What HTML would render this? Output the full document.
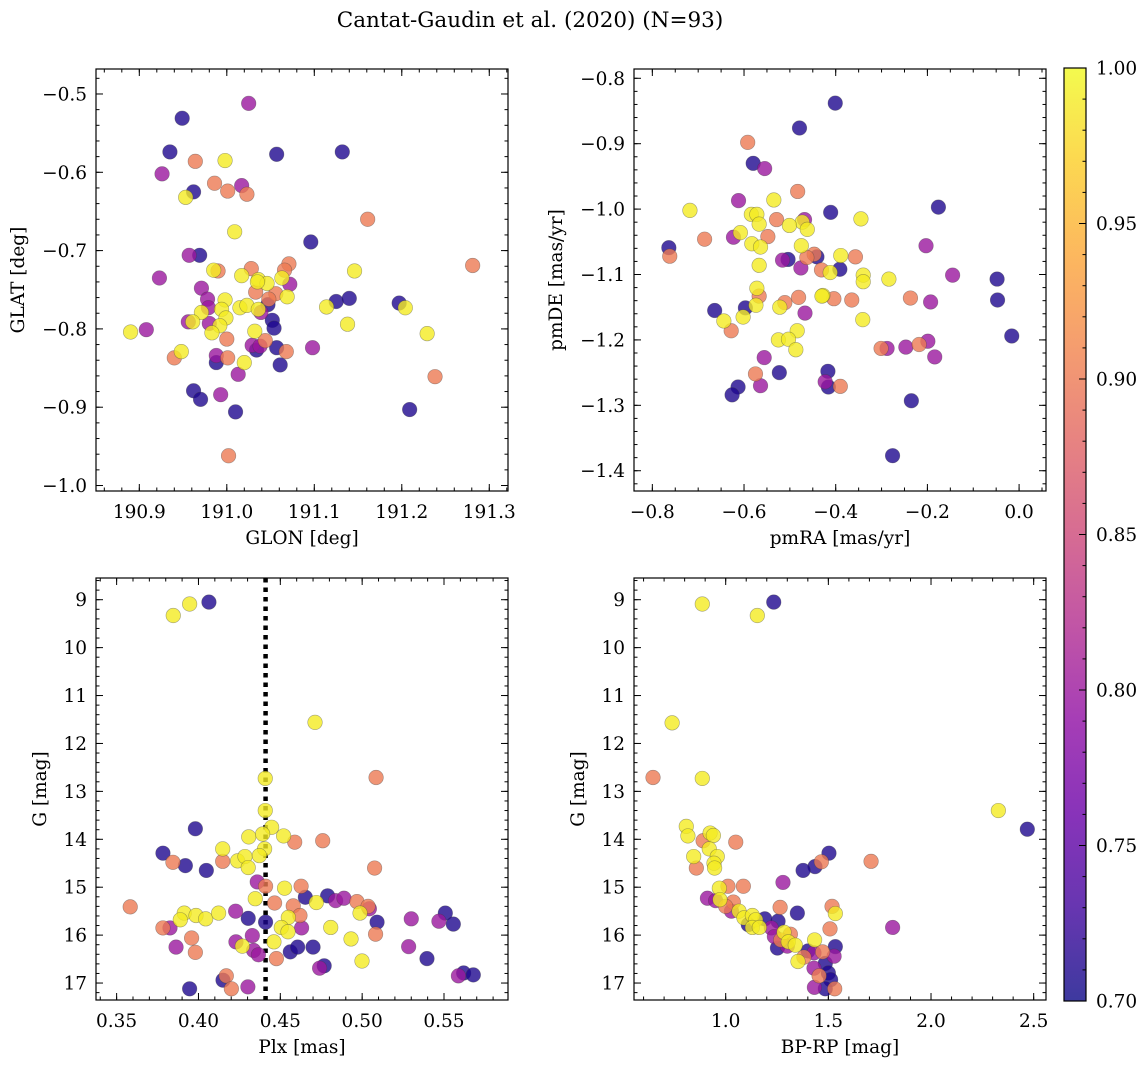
<!DOCTYPE html>
<html><head><meta charset="utf-8"><title>Cantat-Gaudin et al. (2020)</title>
<style>
html,body{margin:0;padding:0;background:#fff;}
svg{display:block;font-family:"DejaVu Serif","Liberation Serif",serif;}
</style></head>
<body>
<svg id="fig" width="1148" height="1068" viewBox="0 0 1148 1068" xmlns="http://www.w3.org/2000/svg">
<defs>
<linearGradient id="plasmaGrad" x1="0" y1="1" x2="0" y2="0">
<stop offset="0" stop-color="#0d0887"/><stop offset="0.1" stop-color="#41049d"/><stop offset="0.2" stop-color="#6a00a8"/><stop offset="0.3" stop-color="#8f0da4"/><stop offset="0.4" stop-color="#b12a90"/><stop offset="0.5" stop-color="#cc4778"/><stop offset="0.6" stop-color="#e16462"/><stop offset="0.7" stop-color="#f2844b"/><stop offset="0.8" stop-color="#fca636"/><stop offset="0.9" stop-color="#fcce25"/><stop offset="1" stop-color="#f0f921"/>
</linearGradient>
</defs>
<text x="530" y="27" font-size="21.5" text-anchor="middle">Cantat-Gaudin et al. (2020) (N=93)</text>
<g>
<rect x="1064" y="68" width="22" height="933" fill="url(#plasmaGrad)" fill-opacity="0.8" stroke="#000" stroke-width="1.2"/>
<g id="cbticks"></g>
</g>
</svg>
<script>
// ---------- Panel 1: GLON vs GLAT ----------
const glon=[191.025,190.949,190.935,191.057,191.132,190.964,190.998,190.926,190.986,191.017,191.001,191.023,190.962,190.953,191.161,191.009,191.096,190.957,190.969,191.281,191.071,190.923,191.028,190.985,190.990,191.066,191.146,191.017,191.063,191.072,191.036,191.046,191.035,190.971,191.033,191.056,191.048,191.069,190.978,190.998,191.125,191.140,191.197,191.204,191.114,190.979,190.971,191.015,191.023,191.047,191.036,191.039,190.994,190.999,190.956,190.961,190.980,190.992,191.052,191.054,191.138,190.890,190.908,190.983,191.032,191.229,191.000,191.044,191.029,191.034,191.038,191.057,191.068,191.098,190.948,190.940,190.988,191.001,190.988,191.020,191.061,191.013,191.238,190.962,190.970,190.993,191.010,191.209,191.002];
const glat=[-0.512,-0.531,-0.574,-0.577,-0.574,-0.586,-0.585,-0.602,-0.614,-0.617,-0.624,-0.628,-0.625,-0.632,-0.660,-0.676,-0.689,-0.706,-0.706,-0.719,-0.717,-0.735,-0.723,-0.725,-0.726,-0.725,-0.726,-0.732,-0.735,-0.743,-0.737,-0.742,-0.740,-0.748,-0.753,-0.755,-0.762,-0.759,-0.762,-0.763,-0.765,-0.761,-0.767,-0.773,-0.772,-0.773,-0.779,-0.773,-0.770,-0.769,-0.775,-0.779,-0.775,-0.786,-0.791,-0.791,-0.793,-0.796,-0.789,-0.799,-0.794,-0.804,-0.801,-0.805,-0.803,-0.806,-0.813,-0.815,-0.821,-0.827,-0.822,-0.824,-0.829,-0.824,-0.829,-0.837,-0.834,-0.837,-0.843,-0.843,-0.846,-0.858,-0.861,-0.879,-0.890,-0.884,-0.906,-0.903,-0.962];
const prob1=[0.8,0.71,0.71,0.71,0.71,0.9,0.99,0.8,0.9,0.8,0.9,0.9,0.71,0.99,0.9,0.99,0.71,0.8,0.71,0.9,0.9,0.8,0.9,0.99,0.9,0.9,0.99,0.99,0.99,0.8,0.99,0.99,0.99,0.8,0.9,0.9,0.9,0.99,0.8,0.99,0.71,0.71,0.71,0.99,0.99,0.8,0.99,0.99,0.99,0.71,0.99,0.8,0.99,0.99,0.8,0.99,0.8,0.99,0.71,0.71,0.99,0.99,0.8,0.99,0.99,0.99,0.9,0.9,0.8,0.71,0.8,0.71,0.9,0.8,0.99,0.9,0.8,0.9,0.71,0.99,0.71,0.8,0.9,0.71,0.71,0.8,0.71,0.71,0.9];
// ---------- Panel 2: pmRA vs pmDE ----------
const pmra=[-0.401,-0.479,-0.592,-0.580,-0.555,-0.483,-0.612,-0.535,-0.176,-0.718,-0.411,-0.584,-0.572,-0.345,-0.529,-0.468,-0.473,-0.501,-0.567,-0.462,-0.608,-0.623,-0.548,-0.686,-0.583,-0.564,-0.475,-0.203,-0.764,-0.762,-0.447,-0.441,-0.463,-0.389,-0.357,-0.516,-0.504,-0.567,-0.476,-0.431,-0.412,-0.391,-0.340,-0.340,-0.145,-0.284,-0.048,-0.572,-0.567,-0.574,-0.428,-0.430,-0.404,-0.511,-0.522,-0.481,-0.365,-0.237,-0.193,-0.047,-0.597,-0.664,-0.467,-0.602,-0.644,-0.341,-0.628,-0.484,-0.525,-0.503,-0.487,-0.301,-0.288,-0.247,-0.218,-0.199,-0.184,-0.016,-0.556,-0.575,-0.523,-0.417,-0.423,-0.416,-0.390,-0.564,-0.613,-0.626,-0.235,-0.276];
const pmde=[-0.838,-0.876,-0.898,-0.930,-0.938,-0.973,-0.987,-0.986,-0.997,-1.002,-1.005,-1.008,-1.008,-1.015,-1.016,-1.016,-1.020,-1.025,-1.023,-1.031,-1.036,-1.043,-1.042,-1.046,-1.053,-1.058,-1.056,-1.056,-1.059,-1.072,-1.069,-1.073,-1.074,-1.071,-1.073,-1.078,-1.077,-1.086,-1.090,-1.093,-1.097,-1.092,-1.101,-1.111,-1.101,-1.107,-1.107,-1.121,-1.133,-1.147,-1.132,-1.133,-1.137,-1.143,-1.150,-1.135,-1.139,-1.136,-1.142,-1.139,-1.151,-1.155,-1.159,-1.165,-1.171,-1.169,-1.186,-1.186,-1.200,-1.199,-1.215,-1.213,-1.213,-1.211,-1.207,-1.202,-1.226,-1.194,-1.227,-1.252,-1.250,-1.248,-1.264,-1.272,-1.271,-1.270,-1.272,-1.284,-1.293,-1.377];
const prob2=[0.71,0.71,0.9,0.71,0.8,0.9,0.8,0.99,0.71,0.99,0.71,0.99,0.99,0.99,0.9,0.8,0.99,0.99,0.99,0.99,0.99,0.8,0.9,0.9,0.99,0.99,0.99,0.8,0.71,0.9,0.9,0.71,0.9,0.99,0.9,0.8,0.71,0.99,0.8,0.9,0.99,0.71,0.99,0.99,0.8,0.99,0.71,0.99,0.9,0.99,0.99,0.99,0.9,0.9,0.99,0.9,0.9,0.9,0.8,0.71,0.71,0.71,0.8,0.99,0.99,0.99,0.9,0.99,0.99,0.99,0.99,0.9,0.8,0.8,0.9,0.8,0.8,0.71,0.8,0.9,0.71,0.71,0.8,0.71,0.9,0.8,0.71,0.71,0.71,0.71];
// ---------- Panel 3: Plx vs G ----------
const plx=[0.3846,0.3946,0.4064,0.4712,0.4408,0.5085,0.4408,0.3981,0.4447,0.4307,0.4392,0.4520,0.4588,0.4759,0.3783,0.4148,0.4404,0.3844,0.3920,0.4148,0.4239,0.4284,0.4304,0.4372,0.4048,0.5076,0.4359,0.4410,0.4526,0.4627,0.4653,0.4789,0.4347,0.4465,0.4579,0.4720,0.4838,0.4889,0.4968,0.5036,0.5044,0.4987,0.3583,0.3913,0.3985,0.4044,0.3889,0.4123,0.4227,0.4304,0.4410,0.4620,0.4549,0.5091,0.5300,0.5469,0.5508,0.5557,0.3783,0.3826,0.4506,0.4547,0.4630,0.4808,0.5082,0.3958,0.4229,0.4329,0.4461,0.4932,0.5284,0.3863,0.3981,0.4268,0.4337,0.4366,0.4476,0.4561,0.4606,0.4700,0.4999,0.5396,0.4740,0.4768,0.5588,0.5620,0.5679,0.4150,0.4170,0.4201,0.4302,0.3946];
const gmag3=[9.33,9.09,9.05,11.56,12.73,12.71,13.40,13.78,13.75,13.95,13.89,13.93,14.06,14.03,14.29,14.20,14.20,14.48,14.55,14.46,14.45,14.36,14.59,14.34,14.65,14.60,14.89,14.98,15.02,14.98,15.21,15.18,15.24,15.33,15.39,15.32,15.28,15.23,15.30,15.40,15.45,15.54,15.41,15.54,15.59,15.66,15.68,15.54,15.50,15.65,15.73,15.59,15.63,15.73,15.66,15.71,15.54,15.77,15.85,15.85,15.84,15.93,15.85,15.84,15.98,16.06,16.14,16.01,16.14,16.08,16.24,16.25,16.36,16.23,16.32,16.41,16.49,16.35,16.25,16.25,16.54,16.49,16.69,16.64,16.85,16.79,16.83,16.94,16.85,17.12,17.08,17.12];
const prob3=[0.99,0.99,0.71,0.99,0.99,0.9,0.99,0.71,0.99,0.99,0.99,0.99,0.9,0.9,0.71,0.99,0.99,0.9,0.71,0.9,0.99,0.99,0.99,0.99,0.71,0.9,0.8,0.9,0.99,0.9,0.71,0.71,0.99,0.9,0.9,0.99,0.8,0.8,0.9,0.9,0.8,0.99,0.9,0.99,0.99,0.99,0.99,0.99,0.8,0.71,0.71,0.9,0.99,0.71,0.8,0.8,0.71,0.71,0.9,0.8,0.99,0.99,0.8,0.99,0.9,0.9,0.8,0.8,0.99,0.99,0.8,0.8,0.9,0.99,0.8,0.8,0.9,0.71,0.71,0.71,0.99,0.71,0.8,0.71,0.8,0.71,0.71,0.71,0.9,0.9,0.8,0.71];
const plxMean=[0.441];
// ---------- Panel 4: BP-RP vs G ----------
const bprp=[0.886,1.154,1.234,0.739,0.646,0.886,2.328,2.469,0.808,0.816,0.924,0.940,0.890,0.920,1.049,0.959,0.844,0.943,0.946,0.857,1.503,1.466,1.435,1.377,1.708,1.279,1.011,1.086,0.969,0.911,0.951,0.972,1.037,1.000,1.265,1.518,1.534,1.349,1.065,1.028,1.089,1.130,1.146,1.190,1.255,1.110,1.130,1.164,1.813,1.508,1.222,1.284,1.315,1.237,1.268,1.305,1.339,1.252,1.300,1.433,1.534,1.401,1.430,1.472,1.528,1.381,1.352,1.485,1.430,1.500,1.455,1.511,1.432,1.485,1.531];
const gmag4=[9.09,9.33,9.05,11.57,12.71,12.73,13.40,13.79,13.73,13.93,13.87,13.92,14.03,14.20,14.06,14.36,14.36,14.50,14.60,14.60,14.29,14.47,14.57,14.65,14.46,14.90,14.98,14.98,15.02,15.23,15.28,15.26,15.31,15.40,15.42,15.40,15.55,15.54,15.50,15.50,15.64,15.59,15.68,15.66,15.71,15.78,15.84,15.84,15.84,15.87,15.85,15.94,15.98,16.03,16.10,16.14,16.21,16.27,16.23,16.10,16.24,16.33,16.37,16.35,16.44,16.46,16.55,16.59,16.69,16.79,16.85,16.93,17.09,17.12,17.12];
const prob4=[0.99,0.99,0.71,0.99,0.9,0.99,0.99,0.71,0.99,0.99,0.99,0.99,0.9,0.99,0.9,0.99,0.99,0.99,0.99,0.9,0.71,0.9,0.71,0.71,0.9,0.8,0.9,0.9,0.99,0.8,0.8,0.99,0.9,0.9,0.9,0.9,0.99,0.71,0.99,0.8,0.99,0.99,0.99,0.71,0.71,0.71,0.99,0.99,0.8,0.9,0.8,0.99,0.9,0.8,0.9,0.99,0.99,0.71,0.8,0.99,0.71,0.71,0.8,0.9,0.8,0.9,0.99,0.71,0.8,0.71,0.9,0.71,0.8,0.71,0.9];
// ---------- Colorbar ticks ----------
const cbTicks=[0.70,0.75,0.80,0.85,0.90,0.95,1.00];
const cbTickLabels=["0.70","0.75","0.80","0.85","0.90","0.95","1.00"];

const NS="http://www.w3.org/2000/svg";
const svg=document.getElementById('fig');
const FS=18.5;
function mk(tag,attrs,parent){const e=document.createElementNS(NS,tag);for(const k in attrs)e.setAttribute(k,attrs[k]);(parent||svg).appendChild(e);return e;}
const stops=[[0,[13,8,135]],[0.1,[65,4,157]],[0.2,[106,0,168]],[0.3,[143,13,164]],[0.4,[177,42,144]],[0.5,[204,71,120]],[0.6,[225,100,98]],[0.7,[242,132,75]],[0.8,[252,166,54]],[0.9,[252,206,37]],[1,[240,249,33]]];
function plasma(v){let t=Math.max(0,Math.min(1,(v-0.7)/0.3));for(let i=1;i<stops.length;i++){if(t<=stops[i][0]){const a=stops[i-1],b=stops[i];const f=(t-a[0])/(b[0]-a[0]);const c=a[1].map((x,j)=>Math.round(x+(b[1][j]-x)*f));return 'rgb('+c.join(',')+')';}}return 'rgb(240,249,33)';}
function fmt(v,d){const s=Math.abs(v).toFixed(d);return (v<-1e-9?'\u2212':'')+s;}

function panel(cfg){
  const g=mk('g',{});
  
  
  const sx=v=>cfg.px0+(v-cfg.xd[0])/(cfg.xd[1]-cfg.xd[0])*(cfg.px1-cfg.px0);
  const sy=v=>cfg.py0+(v-cfg.yd[0])/(cfg.yd[1]-cfg.yd[0])*(cfg.py1-cfg.py0);
  const tg=mk('g',{stroke:'#000','stroke-width':1},g);
  function xt(v,len){const x=sx(v);if(x<cfg.px0-0.5||x>cfg.px1+0.5)return;mk('line',{x1:x,x2:x,y1:cfg.py1,y2:cfg.py1-len},tg);mk('line',{x1:x,x2:x,y1:cfg.py0,y2:cfg.py0+len},tg);}
  function yt(v,len){const y=sy(v);if(y<Math.min(cfg.py0,cfg.py1)-0.5||y>Math.max(cfg.py0,cfg.py1)+0.5)return;mk('line',{y1:y,y2:y,x1:cfg.px0,x2:cfg.px0+len},tg);mk('line',{y1:y,y2:y,x1:cfg.px1,x2:cfg.px1-len},tg);}
  const xlo=Math.min(...cfg.xd),xhi=Math.max(...cfg.xd),ylo=Math.min(...cfg.yd),yhi=Math.max(...cfg.yd);
  for(let k=Math.ceil(xlo/cfg.xmin);k*cfg.xmin<=xhi;k++)xt(k*cfg.xmin,3.5);
  for(let k=Math.ceil(ylo/cfg.ymin);k*cfg.ymin<=yhi;k++)yt(k*cfg.ymin,3.5);
  const lg=mk('g',{'font-size':FS,fill:'#000'},g);
  cfg.xmaj.forEach(v=>{xt(v,7);const t=mk('text',{x:sx(v),y:cfg.py1+27,'text-anchor':'middle'},lg);t.textContent=fmt(v,cfg.xdec);});
  cfg.ymaj.forEach(v=>{yt(v,7);const t=mk('text',{x:cfg.px0-9,y:sy(v)+6.5,'text-anchor':'end'},lg);t.textContent=fmt(v,cfg.ydec);});
  if(cfg.vline!==undefined){const l=mk('line',{x1:sx(cfg.vline),x2:sx(cfg.vline),y1:cfg.py0,y2:cfg.py1,stroke:'#000','stroke-width':4.5,'stroke-dasharray':'4.5 5'},g);}
  const idx=cfg.x.map((_,i)=>i).sort((a,b)=>cfg.p[a]-cfg.p[b]);
  const pg=mk('g',{},g);
  idx.forEach(i=>{
    const c=mk('circle',{cx:sx(cfg.x[i]),cy:sy(cfg.y[i]),r:7.3,fill:plasma(cfg.p[i]),'fill-opacity':0.8,stroke:'rgba(60,60,60,0.45)','stroke-width':0.6},pg);
    
    
  });
  const f=mk('rect',{x:cfg.px0,y:Math.min(cfg.py0,cfg.py1),width:cfg.px1-cfg.px0,height:Math.abs(cfg.py1-cfg.py0),fill:'none',stroke:'#000','stroke-width':1.2},g);
  
  const xl=mk('text',{x:(cfg.px0+cfg.px1)/2,y:cfg.py1+53,'text-anchor':'middle','font-size':FS},g);
  xl.textContent=cfg.xlabel;
  const yc=(cfg.py0+cfg.py1)/2;
  const yl=mk('text',{x:cfg.ylx,y:yc,'text-anchor':'middle','font-size':FS,transform:'rotate(-90 '+cfg.ylx+' '+yc+')'},g);
  yl.textContent=cfg.ylabel;
}
panel({name:'glon-glat-panel',px0:96,px1:508,py0:69,py1:491,xd:[190.8505,191.3214],yd:[-0.4681,-1.007],x:glon,y:glat,p:prob1,
  xmaj:[190.9,191.0,191.1,191.2,191.3],xmin:0.02,xdec:1,ymaj:[-0.5,-0.6,-0.7,-0.8,-0.9,-1.0],ymin:0.02,ydec:1,xlabel:'GLON [deg]',ylabel:'GLAT [deg]',ylx:24});
panel({name:'pmra-pmde-panel',px0:634,px1:1046,py0:69,py1:491,xd:[-0.840,0.0587],yd:[-0.7858,-1.431],x:pmra,y:pmde,p:prob2,
  xmaj:[-0.8,-0.6,-0.4,-0.2,0.0],xmin:0.05,xdec:1,ymaj:[-0.8,-0.9,-1.0,-1.1,-1.2,-1.3,-1.4],ymin:0.02,ydec:1,xlabel:'pmRA [mas/yr]',ylabel:'pmDE [mas/yr]',ylx:562});
panel({name:'plx-g-panel',px0:96,px1:508,py0:578,py1:1000,xd:[0.3374,0.5891],yd:[8.547,17.354],x:plx,y:gmag3,p:prob3,
  xmaj:[0.35,0.40,0.45,0.50,0.55],xmin:0.01,xdec:2,ymaj:[9,10,11,12,13,14,15,16,17],ymin:0.2,ydec:0,xlabel:'Plx [mas]',ylabel:'G [mag]',ylx:46,vline:plxMean[0]});
panel({name:'bprp-g-panel',px0:634,px1:1046,py0:578,py1:1000,xd:[0.5534,2.560],yd:[8.547,17.354],x:bprp,y:gmag4,p:prob4,
  xmaj:[1.0,1.5,2.0,2.5],xmin:0.1,xdec:1,ymaj:[9,10,11,12,13,14,15,16,17],ymin:0.2,ydec:0,xlabel:'BP-RP [mag]',ylabel:'G [mag]',ylx:584});
const cbg=document.getElementById('cbticks');
const cy=v=>1001-(v-0.7)/0.3*933;
for(let k=70;k<=100;k++){const y=cy(k/100);mk('line',{x1:1086,x2:k%5===0?1079:1082.5,y1:y,y2:y,stroke:'#000','stroke-width':1},cbg);}
cbTicks.forEach((v,i)=>{const t=mk('text',{x:1096,y:cy(v)+6.5,'font-size':FS},cbg);t.textContent=cbTickLabels[i];
  
  });
</script>
</body></html>
